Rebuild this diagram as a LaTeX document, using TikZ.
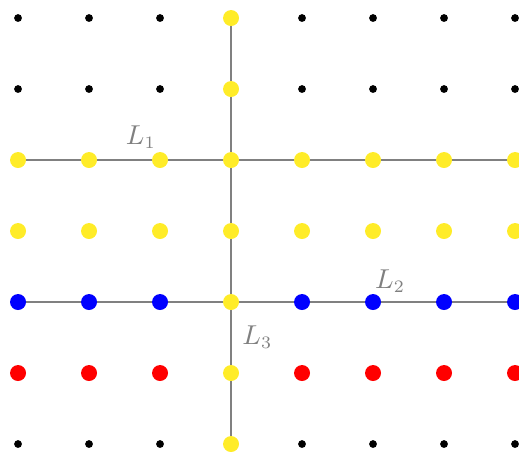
\documentclass[tikz,border=0pt]{standalone}
\usepackage{tikz}
\usetikzlibrary{positioning}
\usepackage{xcolor}

\definecolor{dotyellow}{RGB}{255,236,40}

\begin{document}
\begin{tikzpicture}[
  sdot/.style={circle, fill=black, inner sep=0pt, minimum size=0.11cm},
  bigdot/.style={circle, inner sep=0pt, minimum size=0.225cm},
  ydot/.style={bigdot, fill=dotyellow},
  bdot/.style={bigdot, fill=blue},
  rdot/.style={bigdot, fill=red},
  gridline/.style={draw=gray, line width=0.8pt},
  lbl/.style={text=gray, font=\fontsize{10.5}{12}\selectfont, inner sep=1pt}
]
\useasboundingbox (-0.254,0.254) rectangle (7.056,-6.113);

% lattice points
\foreach \i in {0,...,7}
  \foreach \j in {0,...,6}
    \coordinate (c-\i-\j) at (\i,-\j);

% lines
\draw [gridline] (c-0-2) -- (c-7-2);
\draw [gridline] (c-0-4) -- (c-7-4);
\draw [gridline] (c-3-0) -- (c-3-6);

% dots
\foreach \j/\sty in {0/sdot,1/sdot,2/ydot,3/ydot,4/bdot,5/rdot,6/sdot}
  \foreach \i in {0,1,2,4,5,6,7}
    \node [\sty] (d-\i-\j) at (c-\i-\j) {};
\foreach \j in {0,...,6}
  \node [ydot] (d-3-\j) at (c-3-\j) {};

% labels
\node (l1) [lbl] at (1.73,-1.68) {$L_1$};
\node (l2) [lbl] at (5.24,-3.71) {$L_2$};
\node (l3) [lbl] at (3.37,-4.49) {$L_3$};

\end{tikzpicture}
\end{document}
